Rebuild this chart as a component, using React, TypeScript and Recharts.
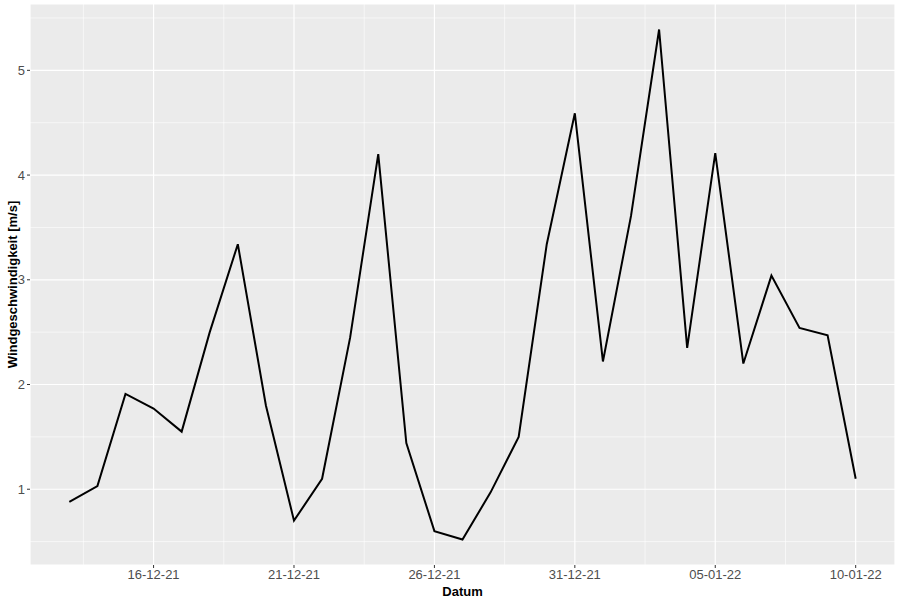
import { LineChart, Line, XAxis, YAxis, CartesianGrid, ReferenceLine } from 'recharts';

// one value per day, 13-12-21 .. 10-01-22
const dates = [
  '13-12-21', '14-12-21', '15-12-21', '16-12-21', '17-12-21', '18-12-21', '19-12-21',
  '20-12-21', '21-12-21', '22-12-21', '23-12-21', '24-12-21', '25-12-21', '26-12-21',
  '27-12-21', '28-12-21', '29-12-21', '30-12-21', '31-12-21', '01-01-22', '02-01-22',
  '03-01-22', '04-01-22', '05-01-22', '06-01-22', '07-01-22', '08-01-22', '09-01-22',
  '10-01-22',
];
const speeds = [
  0.88, 1.03, 1.91, 1.77, 1.55, 2.5, 3.34,
  1.8, 0.7, 1.1, 2.45, 4.2, 1.44, 0.6,
  0.52, 0.97, 1.5, 3.34, 4.59, 2.22, 3.61,
  5.39, 2.35, 4.21, 2.2, 3.04, 2.54, 2.47,
  1.1,
];
const yTicks = [1, 2, 3, 4, 5];
const yMinor = [0.5, 1.5, 2.5, 3.5, 4.5, 5.5];
const xTicks = [3, 8, 13, 18, 23, 28];
const xMinor = [0.5, 5.5, 10.5, 15.5, 20.5, 25.5];

const data = dates.map((d, i) => ({ day: i, date: d, speed: speeds[i] }));

// ggplot style 5% expansion
const yMin = Math.min(...speeds);
const yMax = Math.max(...speeds);
const yPad = (yMax - yMin) * 0.05;
const xPad = (dates.length - 1) * 0.05;

const tickStyle = { fill: '#4D4D4D', fontSize: 13, fontFamily: 'Liberation Sans, Arial, sans-serif' };
const titleStyle = { fill: '#000', fontSize: 13, fontWeight: 'bold', fontFamily: 'Liberation Sans, Arial, sans-serif' };

export default function App() {
  return (
    <div style={{ position: 'absolute', left: 0, top: 0, width: 900, height: 600, background: '#fff' }}>
      <LineChart width={900} height={600} data={data} margin={{ top: 4, right: 5, bottom: 0, left: 0 }}>
        <CartesianGrid fill="#EBEBEB" stroke="#FFFFFF" strokeWidth={1.2} />
        {yMinor.map((v) => (
          <ReferenceLine key={'y' + v} y={v} stroke="#FFFFFF" strokeWidth={0.6} />
        ))}
        {xMinor.map((v) => (
          <ReferenceLine key={'x' + v} x={v} stroke="#FFFFFF" strokeWidth={0.6} />
        ))}
        <XAxis
          dataKey="day"
          type="number"
          domain={[-xPad, dates.length - 1 + xPad]}
          allowDataOverflow
          ticks={xTicks}
          tickFormatter={(v: number) => dates[v]}
          tick={tickStyle}
          tickSize={3}
          tickLine={{ stroke: '#333333' }}
          axisLine={false}
          height={35}
          label={{ value: 'Datum', position: 'insideBottom', offset: 4, style: titleStyle }}
        />
        <YAxis
          type="number"
          domain={[yMin - yPad, yMax + yPad]}
          allowDataOverflow
          ticks={yTicks}
          tick={tickStyle}
          tickSize={3}
          tickLine={{ stroke: '#333333' }}
          axisLine={false}
          width={30}
          label={{ value: 'Windgeschwindigkeit [m/s]', angle: -90, position: 'center', dx: -3, style: titleStyle }}
        />
        <Line
          type="linear"
          dataKey="speed"
          stroke="#000000"
          strokeWidth={2}
          dot={false}
          isAnimationActive={false}
        />
      </LineChart>
    </div>
  );
}
